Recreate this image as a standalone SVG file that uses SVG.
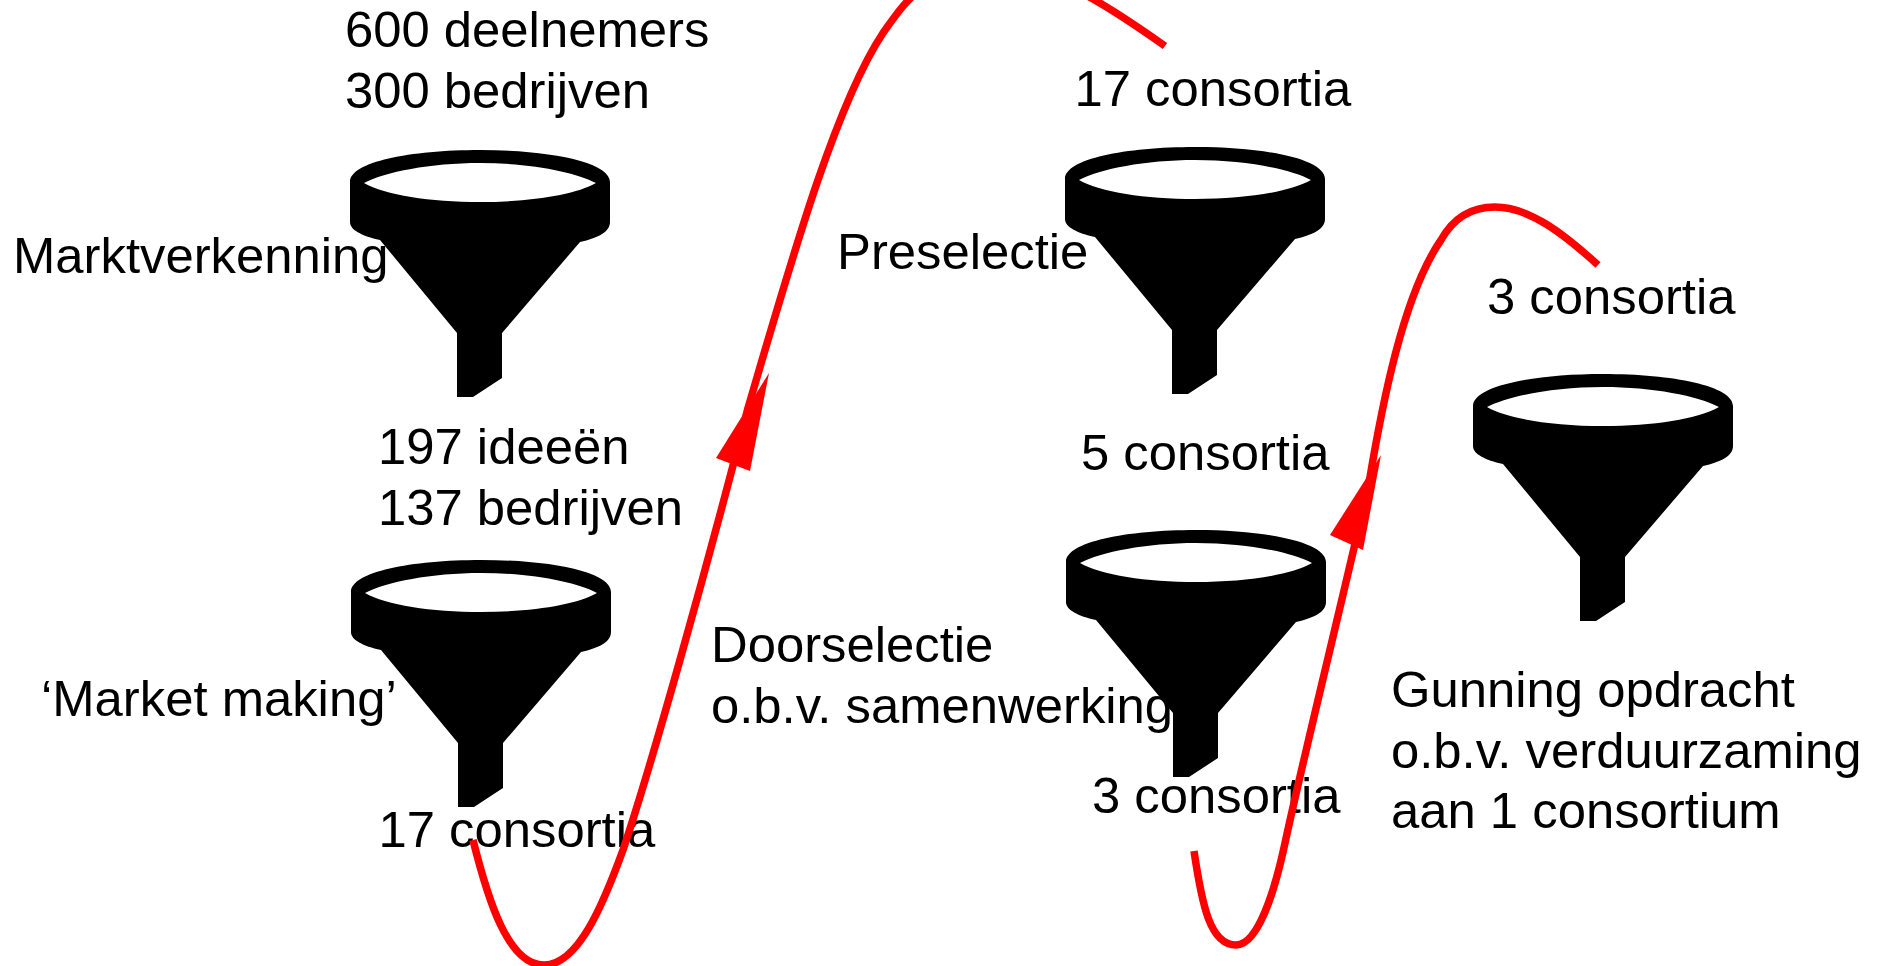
<svg xmlns="http://www.w3.org/2000/svg" width="1880" height="966" viewBox="0 0 1880 966">
<style>
text{font-family:"Liberation Sans",Arial,sans-serif;font-size:50.8px;fill:#000}
.curve{fill:none;stroke:#f00;stroke-width:7.5}
.head{fill:#f00}
</style>
<defs>
<path id="funnel" fill="#000" fill-rule="evenodd" d="M350,182C350,162 410,150 480,150C550,150 610,162 610,182V222C610,232 598,238 580,242L502,333V378L473,397H457V333L380,240C362,236 350,230 350,222ZM364,183C385,172 430,163 480,163C530,163 575,172 596,183C575,195 530,202 480,202C430,202 385,195 364,183Z"/>
</defs>
<rect width="1880" height="966" fill="#fff"/>
<g id="funnel-marktverkenning"><use href="#funnel"/></g>
<g id="funnel-market-making"><use href="#funnel" x="1" y="410"/></g>
<g id="funnel-preselectie"><use href="#funnel" x="715" y="-3"/></g>
<g id="funnel-doorselectie"><use href="#funnel" x="716" y="380"/></g>
<g id="funnel-gunning"><use href="#funnel" x="1123" y="224"/></g>
<g id="labels">
<text x="345" y="47">600 deelnemers</text>
<text x="345" y="108">300 bedrijven</text>
<text x="13" y="273">Marktverkenning</text>
<text x="378" y="464">197 ideeën</text>
<text x="378" y="525">137 bedrijven</text>
<text x="41" y="716">‘Market making’</text>
<text x="378.5" y="847">17 consortia</text>
<text x="711" y="662">Doorselectie</text>
<text x="711" y="723">o.b.v. samenwerking</text>
<text x="837" y="269">Preselectie</text>
<text x="1074.5" y="106">17 consortia</text>
<text x="1081" y="470">5 consortia</text>
<text x="1092" y="813">3 consortia</text>
<text x="1487" y="314">3 consortia</text>
<text x="1391" y="707">Gunning opdracht</text>
<text x="1391" y="768">o.b.v. verduurzaming</text>
<text x="1391" y="828">aan 1 consortium</text>
</g>
<g id="connectors">
<path class="curve" d="M473,840C488,900 508,965 544,965C578,965 603,905 623,850C650,770 705,575 748,408C790,265 835,105 883,33C903,5 925,-32 990,-32C1050,-32 1100,0 1165,46"/>
<polygon class="head" points="769,373 716,458 750,471"/>
<path class="curve" d="M1194,851C1202,905 1210,945 1236,945C1258,945 1275,890 1285,843C1305,750 1345,590 1369,483C1382,405 1403,295 1441,240C1455,215 1475,207 1495,207C1530,207 1565,235 1598,265"/>
<polygon class="head" points="1381,455 1330,535 1363,550"/>
</g>
</svg>
